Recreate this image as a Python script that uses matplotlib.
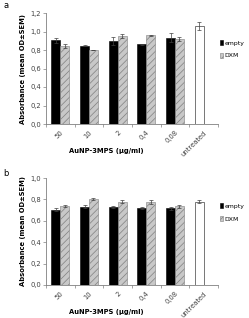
import matplotlib
matplotlib.use("Agg")
import matplotlib.pyplot as plt
import numpy as np

categories = ["50", "10", "2", "0,4", "0,08"]
all_labels = ["50", "10", "2", "0,4", "0,08", "untreated"]

a_empty = [0.905, 0.845, 0.895, 0.860, 0.935]
a_empty_err = [0.030, 0.005, 0.045, 0.010, 0.045]
a_dxm = [0.845, 0.800, 0.950, 0.960, 0.920]
a_dxm_err = [0.020, 0.005, 0.025, 0.005, 0.025]
a_untreated = 1.06
a_untreated_err = 0.040

b_empty = [0.705, 0.730, 0.725, 0.720, 0.715]
b_empty_err = [0.010, 0.015, 0.010, 0.008, 0.010]
b_dxm = [0.740, 0.805, 0.780, 0.775, 0.735]
b_dxm_err = [0.008, 0.012, 0.012, 0.020, 0.012]
b_untreated = 0.780
b_untreated_err = 0.010

W, H = 249, 318
fig = plt.figure(figsize=(W / 100, H / 100), dpi=100)
plt.rcParams['font.family'] = ['DejaVu Sans']
plt.rcParams['hatch.linewidth'] = 0.5

fs = 4.9
axcol = '#808080'


def panel(rect, empty, empty_err, dxm, dxm_err, unt, unt_err, ymax, yticks, legend_y):
    ax = fig.add_axes(rect)
    x = np.arange(len(empty))
    w = 0.31
    ekw = dict(elinewidth=0.5, capthick=0.5, ecolor='#404040')
    ax.bar(x - w / 2, empty, w, color='black', edgecolor='black', linewidth=0.4,
           yerr=empty_err, capsize=1.3, error_kw=ekw, label='empty')
    ax.bar(x + w / 2, dxm, w, color='#c8c8c8', edgecolor='#808080', linewidth=0.4,
           hatch='/////', yerr=dxm_err, capsize=1.3, error_kw=ekw, label='DXM')
    ax.bar([len(empty) - w / 2], [unt], w, color='white', edgecolor='#606060', linewidth=0.6,
           yerr=[unt_err], capsize=1.3, error_kw=ekw)
    ax.set_xlim(-0.5, len(empty) + 0.5)
    ax.set_ylim(0, ymax)
    ax.set_yticks(yticks)
    ax.set_yticklabels([f"{t:.1f}".replace('.', ',') for t in yticks], fontsize=fs, color='#404040')
    ax.set_xticks(np.arange(len(all_labels)))
    ax.set_xticklabels(all_labels, rotation=45, ha='right', rotation_mode='anchor',
                       fontsize=fs, color='#404040')
    ax.set_xticks(np.arange(len(all_labels) + 1) - 0.5, minor=True)
    ax.tick_params(axis='x', which='major', length=0, pad=4)
    ax.tick_params(axis='x', which='minor', length=2, width=0.5, color=axcol, direction='out')
    ax.tick_params(axis='y', length=2, width=0.5, color=axcol, pad=1.5)
    for s in ['top', 'right']:
        ax.spines[s].set_visible(False)
    for s in ['left', 'bottom']:
        ax.spines[s].set_color(axcol)
        ax.spines[s].set_linewidth(0.6)
    ax.set_ylabel('Absorbance (mean OD±SEM)', fontsize=fs, fontweight='bold', labelpad=3)
    ax.legend(loc='upper left', bbox_to_anchor=(0.995, legend_y), frameon=False,
              fontsize=4.4, handlelength=0.6, handleheight=0.9, handletextpad=0.25,
              labelspacing=1.2, borderaxespad=0)
    return ax


# panel a
ax_a = panel([46 / W, 1 - 124 / H, 172 / W, 111 / H], a_empty, a_empty_err, a_dxm, a_dxm_err,
             a_untreated, a_untreated_err, 1.2, [0, 0.2, 0.4, 0.6, 0.8, 1.0, 1.2], 0.78)
ax_b = panel([46 / W, 1 - 285 / H, 172 / W, 107 / H], b_empty, b_empty_err, b_dxm, b_dxm_err,
             b_untreated, b_untreated_err, 1.0, [0, 0.2, 0.4, 0.6, 0.8, 1.0], 0.79)

fig.text(106 / W, 1 - 151 / H, 'AuNP-3MPS (µg/ml)', fontsize=fs, fontweight='bold',
         ha='center', va='center')
fig.text(106 / W, 1 - 312 / H, 'AuNP-3MPS (µg/ml)', fontsize=fs, fontweight='bold',
         ha='center', va='center')
fig.text(3 / W, 1 - 5 / H, 'a', fontsize=6, ha='left', va='center')
fig.text(3 / W, 1 - 174 / H, 'b', fontsize=6, ha='left', va='center')

fig.savefig('out.png', dpi=100)
